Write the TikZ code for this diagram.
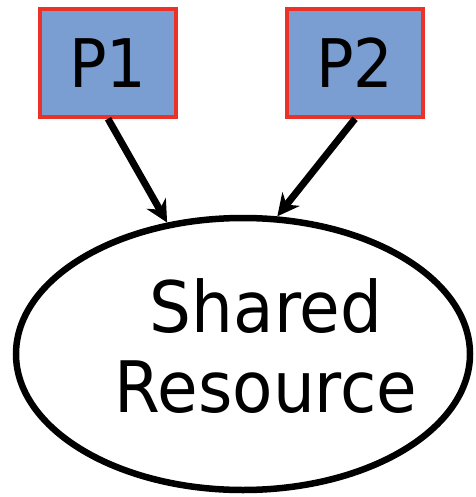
\documentclass[tikz,border=0pt]{standalone}
\usepackage{fontspec}
\setmainfont{DejaVu Sans}[FakeStretch=0.93]
\usetikzlibrary{shapes.geometric,arrows.meta}
\definecolor{procblue}{RGB}{122,157,210}
\definecolor{procred}{RGB}{235,50,40}
\begin{document}
\begin{tikzpicture}[x=1pt, y=-1pt,
    proc/.style={draw=procred, fill=procblue, line width=3.5pt,
        minimum width=136pt, minimum height=108pt,
        font=\fontsize{67}{67}\selectfont},
    shared/.style={draw, ellipse, line width=6.5pt,
        minimum width=454pt, minimum height=272pt},
    link/.style={-{Stealth[length=22pt,width=22pt]}, line width=7pt}]
    \useasboundingbox (0, 0) rectangle (475, 497);
    \node [proc] (p1) at (108, 63) {P1};
    \node [proc] (p2) at (355, 63) {P2};
    \node [shared] (res) at (243, 354) {};
    \node [align=center, font=\fontsize{71}{80}\selectfont] (restext) at (266, 346) {Shared\\Resource};
    \draw [link] (p1.south) -- (res.120);
    \draw [link] (p2.south) -- (res.76);
\end{tikzpicture}
\end{document}
